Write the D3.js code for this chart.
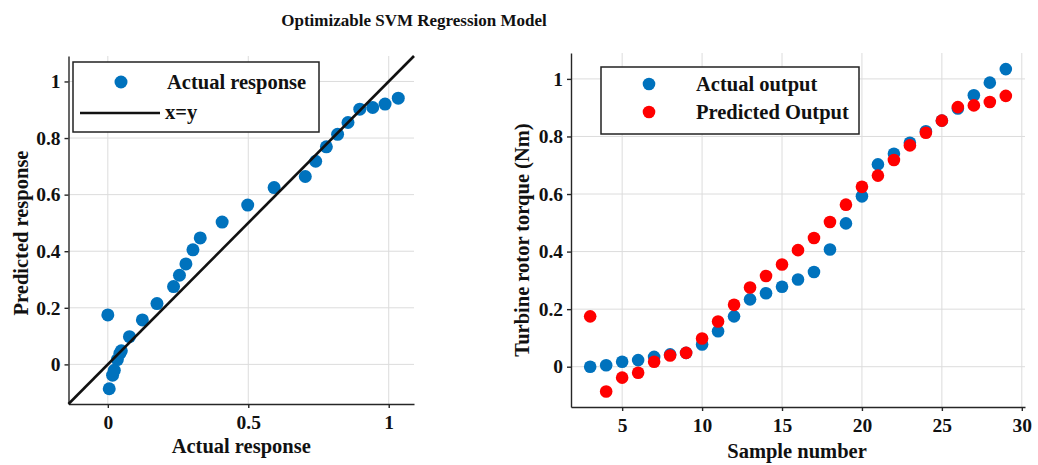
<!DOCTYPE html>
<html>
<head>
<meta charset="utf-8">
<script src="https://cdn.jsdelivr.net/npm/d3@7"></script>
<style>
  body { margin: 0; background: #fff; }
  svg text { font-family: "Liberation Serif", "Times New Roman", serif; font-weight: bold; fill: #111; }
  .grid line { stroke: #dcdcdc; stroke-width: 1; }
  .axis path, .axis line { stroke: #262626; stroke-width: 1.4; }
</style>
</head>
<body>
<div id="chart"></div>
<script>
// data
const sampleNumbers = [3, 4, 5, 6, 7, 8, 9, 10, 11, 12, 13, 14, 15, 16, 17, 18, 19, 20, 21, 22, 23, 24, 25, 26, 27, 28, 29];
const actualOutput = [0.000, 0.005, 0.017, 0.023, 0.034, 0.043, 0.048, 0.077, 0.123, 0.175, 0.234, 0.255, 0.278, 0.303, 0.329, 0.407, 0.498, 0.592, 0.703, 0.740, 0.778, 0.818, 0.855, 0.897, 0.943, 0.987, 1.034];
const predictedOutput = [0.175, -0.086, -0.038, -0.021, 0.017, 0.039, 0.048, 0.098, 0.157, 0.215, 0.275, 0.315, 0.355, 0.405, 0.447, 0.503, 0.563, 0.625, 0.664, 0.718, 0.769, 0.813, 0.855, 0.902, 0.908, 0.920, 0.941];

const leftXTicks = [0, 0.5, 1];
const yTicks = [0, 0.2, 0.4, 0.6, 0.8, 1];
const rightXTicks = [5, 10, 15, 20, 25, 30];

const W = 1038, H = 465;
const BLUE = '#0072bd', RED = '#ff0000';
const LABEL_SIZE = '20.5px', TICK_SIZE = '19.5px';

const svg = d3.select('#chart').append('svg')
    .attr('width', W).attr('height', H);

svg.append('text')
    .attr('x', 414).attr('y', 26)
    .attr('text-anchor', 'middle')
    .style('font-size', '17px')
    .text('Optimizable SVM Regression Model');

function drawAxes(box, x, y, xTicks, xLabel, yLabel) {
    const g = svg.append('g');
    // grid
    g.append('g').attr('class', 'grid')
        .selectAll('line.v').data(xTicks).enter().append('line')
        .attr('x1', d => x(d)).attr('x2', d => x(d))
        .attr('y1', box.top).attr('y2', box.bottom);
    g.append('g').attr('class', 'grid')
        .selectAll('line.h').data(yTicks).enter().append('line')
        .attr('x1', box.left).attr('x2', box.right)
        .attr('y1', d => y(d)).attr('y2', d => y(d));

    g.append('g').attr('class', 'axis')
        .attr('transform', `translate(0,${box.bottom})`)
        .call(d3.axisBottom(x).tickValues(xTicks).tickSize(4).tickSizeOuter(0).tickPadding(7)
            .tickFormat(d3.format('~g')))
        .call(a => a.selectAll('text').style('font-size', TICK_SIZE));

    g.append('g').attr('class', 'axis')
        .attr('transform', `translate(${box.left},0)`)
        .call(d3.axisLeft(y).tickValues(yTicks).tickSize(4).tickSizeOuter(0).tickPadding(4)
            .tickFormat(d3.format('~g')))
        .call(a => a.selectAll('text').style('font-size', TICK_SIZE));

    g.append('text')
        .attr('x', (box.left + box.right) / 2 + xLabel.dx).attr('y', xLabel.y)
        .attr('text-anchor', 'middle')
        .style('font-size', LABEL_SIZE)
        .text(xLabel.text);

    g.append('text')
        .attr('transform', `translate(${yLabel.x},${(box.top + box.bottom) / 2 + yLabel.dy}) rotate(-90)`)
        .attr('text-anchor', 'middle')
        .style('font-size', LABEL_SIZE)
        .text(yLabel.text);
    return g;
}

// ---- left: predicted vs actual ----
const boxL = { left: 68.5, right: 414, top: 56, bottom: 404 };
const xL = d3.scaleLinear().domain([-0.14, 1.09]).range([boxL.left, boxL.right]);
const yL = d3.scaleLinear().domain([-0.14, 1.09]).range([boxL.bottom, boxL.top]);

const gL = drawAxes(boxL, xL, yL, leftXTicks,
    { text: 'Actual response', y: 453, dx: 0 },
    { text: 'Predicted response', x: 28, dy: 3 });

gL.selectAll('circle.pt')
    .data(d3.range(sampleNumbers.length))
    .enter().append('circle')
    .attr('cx', i => xL(actualOutput[i]))
    .attr('cy', i => yL(predictedOutput[i]))
    .attr('r', 6.5)
    .attr('fill', BLUE);

gL.append('line')
    .attr('x1', xL(-0.14)).attr('y1', yL(-0.14))
    .attr('x2', xL(1.09)).attr('y2', yL(1.09))
    .attr('stroke', '#111').attr('stroke-width', 2.6);

const legL = gL.append('g');
legL.append('rect')
    .attr('x', 73).attr('y', 62).attr('width', 246).attr('height', 70)
    .attr('fill', '#fff').attr('stroke', '#222').attr('stroke-width', 1.5);
legL.append('circle').attr('cx', 121).attr('cy', 82).attr('r', 6.5).attr('fill', BLUE);
legL.append('text').attr('x', 167).attr('y', 89).style('font-size', LABEL_SIZE).text('Actual response');
legL.append('line').attr('x1', 80).attr('x2', 160).attr('y1', 113).attr('y2', 113)
    .attr('stroke', '#111').attr('stroke-width', 2.6);
legL.append('text').attr('x', 165).attr('y', 119).style('font-size', LABEL_SIZE).text('x=y');

// ---- right: outputs by sample ----
const boxR = { left: 571, right: 1025, top: 53, bottom: 407 };
const xR = d3.scaleLinear().domain([1.8, 30.2]).range([boxR.left, boxR.right]);
const yR = d3.scaleLinear().domain([-0.14, 1.09]).range([boxR.bottom, boxR.top]);

const gR = drawAxes(boxR, xR, yR, rightXTicks,
    { text: 'Sample number', y: 458, dx: -1 },
    { text: 'Turbine rotor torque (Nm)', x: 529, dy: 10 });

gR.selectAll('circle.act')
    .data(d3.range(sampleNumbers.length))
    .enter().append('circle')
    .attr('cx', i => xR(sampleNumbers[i]))
    .attr('cy', i => yR(actualOutput[i]))
    .attr('r', 6.3)
    .attr('fill', BLUE);

gR.selectAll('circle.pred')
    .data(d3.range(sampleNumbers.length))
    .enter().append('circle')
    .attr('cx', i => xR(sampleNumbers[i]))
    .attr('cy', i => yR(predictedOutput[i]))
    .attr('r', 6.3)
    .attr('fill', RED);

const legR = gR.append('g');
legR.append('rect')
    .attr('x', 601).attr('y', 67).attr('width', 258).attr('height', 67)
    .attr('fill', '#fff').attr('stroke', '#222').attr('stroke-width', 1.5);
legR.append('circle').attr('cx', 649).attr('cy', 84).attr('r', 6.3).attr('fill', BLUE);
legR.append('text').attr('x', 696).attr('y', 91).style('font-size', LABEL_SIZE).text('Actual output');
legR.append('circle').attr('cx', 649).attr('cy', 112).attr('r', 6.3).attr('fill', RED);
legR.append('text').attr('x', 696).attr('y', 119).style('font-size', LABEL_SIZE).text('Predicted Output');
</script>
</body>
</html>
